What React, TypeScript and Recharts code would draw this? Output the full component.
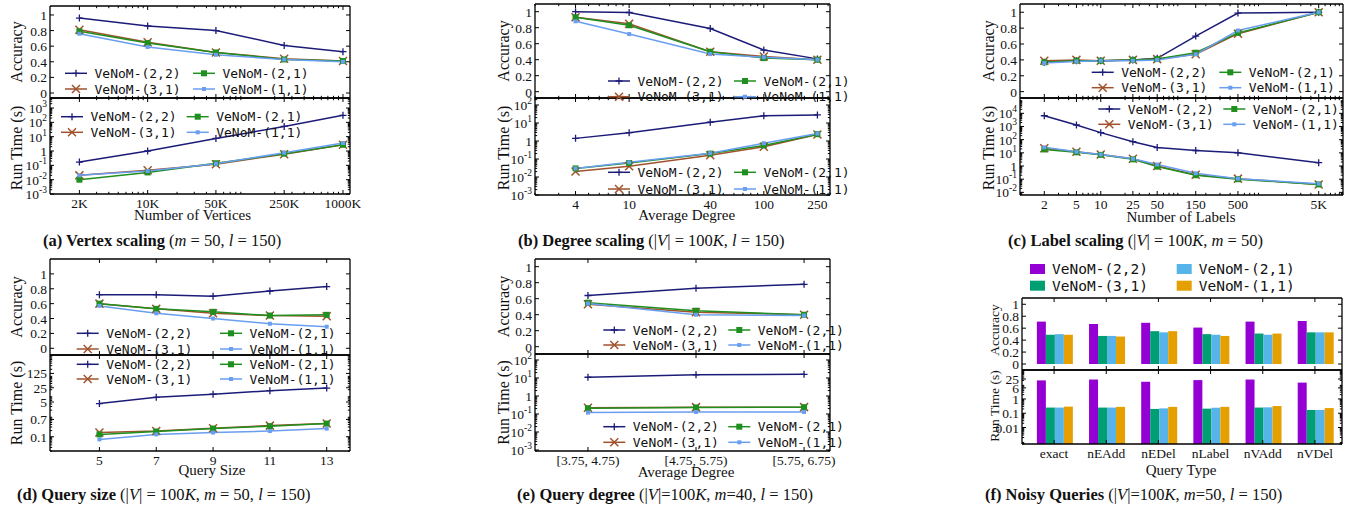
import React from 'react';
import { LineChart, Line, BarChart, Bar, XAxis, YAxis } from 'recharts';

const SERIF = '"Liberation Serif", "Times New Roman", serif';
const MONO = '"DejaVu Sans Mono", monospace';
const INK = '#111';

type Key = 's22' | 's31' | 's21' | 's11';

// ---- series ----
const seriesKeys: Key[] = ['s22', 's31', 's21', 's11'];
const seriesNames: Record<Key, string> = { s22: 'VeNoM-(2,2)', s31: 'VeNoM-(3,1)', s21: 'VeNoM-(2,1)', s11: 'VeNoM-(1,1)' };
const lineColors: Record<Key, string> = { s22: '#1c1c78', s31: '#a0522d', s21: '#1f8f1f', s11: '#6a9ef0' };
const barColors: Record<Key, string> = { s22: '#9400d3', s31: '#009e73', s21: '#56b4e9', s11: '#e69f00' };
const markers: Record<Key, string> = { s22: 'plus', s31: 'cross', s21: 'square', s11: 'dot' };

// ---- (a) vertex scaling ----
const vertexX = [2000, 10000, 50000, 250000, 1000000];
const vertexLabels = ['2K', '10K', '50K', '250K', '1000K'];
const vertexAcc: Record<Key, number[]> = {
  s22: [0.96, 0.86, 0.8, 0.61, 0.53],
  s31: [0.81, 0.65, 0.52, 0.44, 0.41],
  s21: [0.79, 0.64, 0.52, 0.43, 0.41],
  s11: [0.76, 0.59, 0.49, 0.43, 0.4],
};
const vertexTime: Record<Key, number[]> = {
  s22: [0.17, 1.0, 7.5, 52, 310],
  s31: [0.02, 0.045, 0.12, 0.6, 2.7],
  s21: [0.01, 0.032, 0.14, 0.65, 2.7],
  s11: [0.02, 0.04, 0.13, 0.75, 3.6],
};

// ---- (b) degree scaling ----
const degreeX = [4, 10, 40, 100, 250];
const degreeLabels = ['4', '10', '40', '100', '250'];
const degreeAcc: Record<Key, number[]> = {
  s22: [1.0, 0.99, 0.79, 0.52, 0.41],
  s31: [0.93, 0.85, 0.5, 0.44, 0.4],
  s21: [0.93, 0.83, 0.5, 0.42, 0.4],
  s11: [0.88, 0.72, 0.47, 0.43, 0.4],
};
const degreeTime: Record<Key, number[]> = {
  s22: [1.4, 2.9, 11, 25, 28],
  s31: [0.02, 0.04, 0.16, 0.48, 2.3],
  s21: [0.03, 0.06, 0.2, 0.57, 2.4],
  s11: [0.03, 0.065, 0.21, 0.75, 2.6],
};

// ---- (c) label scaling ----
const labelX = [2, 5, 10, 25, 50, 150, 500, 5000];
const labelLabels = ['2', '5', '10', '25', '50', '150', '500', '5K'];
const labelAcc: Record<Key, number[]> = {
  s22: [0.37, 0.39, 0.39, 0.4, 0.42, 0.7, 0.99, 1.0],
  s31: [0.39, 0.4, 0.39, 0.4, 0.41, 0.47, 0.73, 1.0],
  s21: [0.37, 0.39, 0.39, 0.4, 0.41, 0.49, 0.74, 1.0],
  s11: [0.36, 0.38, 0.39, 0.39, 0.4, 0.47, 0.77, 1.0],
};
const labelTime: Record<Key, number[]> = {
  s22: [6500, 1300, 340, 70, 25, 15, 10, 1.8],
  s31: [22, 12, 7.5, 3.5, 1.0, 0.22, 0.11, 0.04],
  s21: [18, 11, 7, 3.2, 0.9, 0.2, 0.1, 0.04],
  s11: [26, 12, 7.5, 3.5, 1.3, 0.28, 0.11, 0.045],
};

// ---- (d) query size ----
const qsizeX = [5, 7, 9, 11, 13];
const qsizeAcc: Record<Key, number[]> = {
  s22: [0.72, 0.72, 0.7, 0.77, 0.83],
  s31: [0.6, 0.53, 0.47, 0.44, 0.43],
  s21: [0.6, 0.53, 0.49, 0.44, 0.45],
  s11: [0.57, 0.47, 0.4, 0.33, 0.29],
};
const qsizeTime: Record<Key, number[]> = {
  s22: [4.2, 8.5, 12, 18, 24],
  s31: [0.16, 0.19, 0.26, 0.35, 0.44],
  s21: [0.13, 0.18, 0.25, 0.33, 0.44],
  s11: [0.074, 0.13, 0.16, 0.19, 0.25],
};
const qsizeTimeTicks = [0.1, 0.7, 5, 25, 125];

// ---- (e) query degree ----
const qdegLabels = ['[3.75, 4.75)', '[4.75, 5.75)', '[5.75, 6.75)'];
const qdegAcc: Record<Key, number[]> = {
  s22: [0.64, 0.73, 0.78],
  s31: [0.53, 0.43, 0.4],
  s21: [0.55, 0.45, 0.4],
  s11: [0.54, 0.4, 0.39],
};
const qdegTime: Record<Key, number[]> = {
  s22: [11, 15, 16],
  s31: [0.22, 0.24, 0.24],
  s21: [0.21, 0.23, 0.24],
  s11: [0.12, 0.13, 0.13],
};

// ---- (f) noisy queries ----
const queryTypes = ['exact', 'nEAdd', 'nEDel', 'nLabel', 'nVAdd', 'nVDel'];
const noisyAcc: Record<Key, number[]> = {
  s22: [0.71, 0.67, 0.69, 0.61, 0.71, 0.72],
  s31: [0.49, 0.47, 0.55, 0.5, 0.51, 0.53],
  s21: [0.5, 0.47, 0.53, 0.49, 0.49, 0.53],
  s11: [0.49, 0.46, 0.55, 0.47, 0.51, 0.53],
};
const noisyTime: Record<Key, number[]> = {
  s22: [20, 23, 16, 21, 23, 14],
  s31: [0.25, 0.25, 0.2, 0.21, 0.25, 0.17],
  s21: [0.25, 0.25, 0.22, 0.24, 0.26, 0.17],
  s11: [0.29, 0.28, 0.28, 0.28, 0.32, 0.23],
};
const noisyTimeTicks = [0.01, 0.1, 1, 6, 25];

const accTicks = [0, 0.2, 0.4, 0.6, 0.8, 1];

const rowsOf = (xs: (number | string)[], d: Record<Key, number[]>) =>
  xs.map((x, i) => ({ x, s22: d.s22[i], s31: d.s31[i], s21: d.s21[i], s11: d.s11[i] }));

type Box = { l: number; t: number; w: number; h: number };
type XCfg = { cat?: boolean; kind?: 'log' | 'linear'; domain?: [number, number]; ticks?: number[]; fmt?: (v: any) => string; padding?: { left: number; right: number } };
type YCfg = { kind: 'log' | 'linear'; domain: [number, number]; ticks: number[]; pow?: boolean; fmt?: (v: any) => string };
type Side = 'bottom' | 'top' | 'left' | 'right';

const FS = 13.5;
const AXLINE = { stroke: '#000', strokeWidth: 1.3 };
const TS = 4; // tick size (inward)

const isMajor = (v: any, majors: any[]) =>
  typeof v !== 'number' || majors.some((m) => Math.abs(m - v) <= Math.abs(m) * 1e-6 + 1e-12);

// log-axis minor ticks (2..9 x 10^n) inside the domain
function minorLog(lo: number, hi: number, majors: number[]) {
  const out: number[] = [];
  for (let n = Math.floor(Math.log10(lo)); n <= Math.ceil(Math.log10(hi)); n++) {
    for (let k = 2; k <= 9; k++) {
      const v = k * Math.pow(10, n);
      if (v >= lo && v <= hi && !isMajor(v, majors)) out.push(v);
    }
  }
  return out;
}

function powLabel(v: number) {
  const e = Math.round(Math.log10(v));
  if (e === 0) return '1';
  return (<><tspan>10</tspan><tspan dy={-6} fontSize={9.5}>{e}</tspan></>);
}

// custom tick: draws the inward tick mark itself (major long, minor short) and the label for majors
function tickFn(side: Side, majors: any[], margin: number, label: ((v: any) => React.ReactNode) | null) {
  return (p: any) => {
    const v = p.payload.value;
    const major = isMajor(v, majors);
    const len = major ? TS : 2.2;
    const lineProps = { stroke: '#000', strokeWidth: 1 };
    let mark: React.ReactNode = null;
    let text: React.ReactNode = null;
    if (side === 'bottom') {
      const e = p.y + TS - margin;
      mark = <line x1={p.x} x2={p.x} y1={e} y2={e - len} {...lineProps} />;
      if (major && label) text = <text x={p.x} y={p.y} dy="0.75em" textAnchor="middle" fontFamily={SERIF} fontSize={FS} fill={INK}>{label(v)}</text>;
    } else if (side === 'top') {
      const e = p.y + margin - TS;
      mark = <line x1={p.x} x2={p.x} y1={e} y2={e + len} {...lineProps} />;
    } else if (side === 'left') {
      const e = p.x - TS + margin;
      mark = <line x1={e} x2={e + len} y1={p.y} y2={p.y} {...lineProps} />;
      if (major && label) text = <text x={p.x} y={p.y} dy={5} textAnchor="end" fontFamily={SERIF} fontSize={FS} fill={INK}>{label(v)}</text>;
    } else {
      const e = p.x - margin + TS;
      mark = <line x1={e} x2={e - len} y1={p.y} y2={p.y} {...lineProps} />;
    }
    return <g>{mark}{text}</g>;
  };
}

function axes(x: XCfg, y: YCfg, showX: boolean) {
  const common = { tickSize: -TS, axisLine: AXLINE, tickLine: false, interval: 0 as const };
  let xp: any;
  let xMajors: any[];
  if (x.cat) {
    xp = { type: 'category', dataKey: 'x', padding: x.padding };
    xMajors = [];
  } else {
    const mins = x.kind === 'log' ? minorLog(x.domain![0], x.domain![1], x.ticks!) : [];
    xp = { type: 'number', dataKey: 'x', scale: x.kind, domain: x.domain, ticks: [...x.ticks!, ...mins], allowDataOverflow: true };
    xMajors = x.ticks!;
  }
  const yMins = y.kind === 'log' ? minorLog(y.domain[0], y.domain[1], y.ticks) : [];
  const yp: any = { type: 'number', scale: y.kind, domain: y.domain, ticks: [...y.ticks, ...yMins], allowDataOverflow: true };
  const yLabel = y.pow ? (v: number) => powLabel(v) : (v: number) => (y.fmt ? y.fmt(v) : String(v));
  return [
    <XAxis key="xb" xAxisId="b" {...xp} {...common} height={30} tickMargin={8} tick={tickFn('bottom', xMajors, 8, showX ? (x.fmt ?? ((v: any) => String(v))) : null)} />,
    <XAxis key="xt" xAxisId="t" orientation="top" {...xp} {...common} height={1} tickMargin={0} tick={tickFn('top', xMajors, 0, null)} />,
    <YAxis key="yl" yAxisId="l" {...yp} {...common} width={60} tickMargin={7} tick={tickFn('left', y.ticks, 7, yLabel)} />,
    <YAxis key="yr" yAxisId="r" orientation="right" {...yp} {...common} width={1} tickMargin={0} tick={tickFn('right', y.ticks, 0, null)} />,
  ];
}

function Marker({ kind, cx, cy, color }: { kind: string; cx: number; cy: number; color: string }) {
  if (cx == null || cy == null) return <g />;
  if (kind === 'plus') return <path d={`M${cx - 3.5},${cy}H${cx + 3.5}M${cx},${cy - 3.5}V${cy + 3.5}`} stroke={color} strokeWidth={1.3} fill="none" />;
  if (kind === 'cross') return <path d={`M${cx - 4},${cy - 4}L${cx + 4},${cy + 4}M${cx - 4},${cy + 4}L${cx + 4},${cy - 4}`} stroke={color} strokeWidth={1.5} fill="none" />;
  if (kind === 'square') return <rect x={cx - 3} y={cy - 3} width={6} height={6} fill={color} />;
  return <rect x={cx - 2} y={cy - 2} width={4} height={4} fill={color} />;
}

function LinePlot({ box, rows, x, y, showX }: { box: Box; rows: any[]; x: XCfg; y: YCfg; showX: boolean }) {
  return (
    <div style={{ position: 'absolute', left: box.l - 60, top: box.t - 11 }}>
      <LineChart width={box.w + 71} height={box.h + 41} data={rows} margin={{ top: 10, right: 10, bottom: 0, left: 0 }}>
        {axes(x, y, showX)}
        {seriesKeys.map((k) => (
          <Line
            key={k}
            xAxisId="b"
            yAxisId="l"
            dataKey={k}
            type="linear"
            stroke={lineColors[k]}
            strokeWidth={1.5}
            isAnimationActive={false}
            activeDot={false}
            dot={(p: any) => <Marker key={`${k}-${p.index}`} kind={markers[k]} cx={p.cx} cy={p.cy} color={lineColors[k]} />}
          />
        ))}
      </LineChart>
    </div>
  );
}

function BarPlot({ box, rows, y, showX }: { box: Box; rows: any[]; y: YCfg; showX: boolean }) {
  const x: XCfg = { cat: true, padding: { left: 6, right: 1 } };
  return (
    <div style={{ position: 'absolute', left: box.l - 60, top: box.t - 11 }}>
      <BarChart width={box.w + 71} height={box.h + 41} data={rows} margin={{ top: 10, right: 10, bottom: 0, left: 0 }} barCategoryGap="17%" barGap={0}>
        {axes(x, y, showX)}
        {seriesKeys.map((k) => (
          <Bar key={k} xAxisId="b" yAxisId="l" dataKey={k} fill={barColors[k]} isAnimationActive={false} />
        ))}
      </BarChart>
    </div>
  );
}

function LineLegend({ x, y, gap, dy = 15.7 }: { x: number; y: number; gap: number; dy?: number }) {
  const grid: [Key, number, number][] = [['s22', 0, 0], ['s21', 1, 0], ['s31', 0, 1], ['s11', 1, 1]];
  return (
    <g>
      {grid.map(([k, c, r]) => {
        const lx = x + c * gap;
        const ly = y + r * dy;
        return (
          <g key={k}>
            <line x1={lx} x2={lx + 22} y1={ly} y2={ly} stroke={lineColors[k]} strokeWidth={1.5} />
            <Marker kind={markers[k]} cx={lx + 11} cy={ly} color={lineColors[k]} />
            <text x={lx + 29.5} y={ly} dy="0.36em" fontFamily={MONO} fontSize={13} fill={INK}>{seriesNames[k]}</text>
          </g>
        );
      })}
    </g>
  );
}

function BarLegend({ x, y, gap, dy }: { x: number; y: number; gap: number; dy: number }) {
  const grid: [Key, number, number][] = [['s22', 0, 0], ['s21', 1, 0], ['s31', 0, 1], ['s11', 1, 1]];
  return (
    <g>
      {grid.map(([k, c, r]) => {
        const lx = x + c * gap;
        const ly = y + r * dy;
        return (
          <g key={k}>
            <rect x={lx} y={ly - 5} width={15} height={10} fill={barColors[k]} />
            <text x={lx + 22} y={ly} dy="0.36em" fontFamily={MONO} fontSize={14.5} fill={INK}>{seriesNames[k]}</text>
          </g>
        );
      })}
    </g>
  );
}

type Part = { t: string; b?: boolean; i?: boolean };
function Caption({ x, y, parts }: { x: number; y: number; parts: Part[] }) {
  return (
    <text x={x} y={y} dy="0.35em" fontFamily={SERIF} fontSize={16.5} fill={INK} style={{ whiteSpace: 'pre' }}>
      {parts.map((p, i) => (
        <tspan key={i} fontWeight={p.b ? 'bold' : 'normal'} fontStyle={p.i ? 'italic' : 'normal'}>{p.t}</tspan>
      ))}
    </text>
  );
}

function YTitle({ x, y, text, size = 16 }: { x: number; y: number; text: string; size?: number }) {
  return (
    <text x={x} y={y} transform={`rotate(-90 ${x} ${y})`} textAnchor="middle" dy="0.35em" fontFamily={SERIF} fontSize={size} fill={INK}>{text}</text>
  );
}
function XTitle({ x, y, text }: { x: number; y: number; text: string }) {
  return <text x={x} y={y} textAnchor="middle" dy="0.35em" fontFamily={SERIF} fontSize={15} fill={INK}>{text}</text>;
}

// plot boxes (page coordinates)
const A_ACC: Box = { l: 50, t: 6, w: 300, h: 92 };
const A_RT: Box = { l: 50, t: 98, w: 300, h: 96 };
const B_ACC: Box = { l: 535, t: 4, w: 295, h: 94 };
const B_RT: Box = { l: 535, t: 98, w: 295, h: 97 };
const C_ACC: Box = { l: 1020, t: 4, w: 323, h: 94 };
const C_RT: Box = { l: 1020, t: 98, w: 323, h: 97 };
const D_ACC: Box = { l: 50, t: 259, w: 300, h: 96 };
const D_RT: Box = { l: 50, t: 355, w: 300, h: 96 };
const E_ACC: Box = { l: 535, t: 259, w: 295, h: 95 };
const E_RT: Box = { l: 535, t: 354, w: 295, h: 97 };
const F_ACC: Box = { l: 1022, t: 298, w: 320, h: 72 };
const F_RT: Box = { l: 1022, t: 370, w: 320, h: 74 };

const lookup = (xs: number[], labels: string[]) => (v: number) => labels[xs.indexOf(v)] ?? '';
const pows = (a: number, b: number) => Array.from({ length: b - a + 1 }, (_, i) => Math.pow(10, a + i));

export default function App() {
  const ax: XCfg = { kind: 'log', domain: [1000, 1.18e6], ticks: vertexX, fmt: lookup(vertexX, vertexLabels) };
  const bx: XCfg = { kind: 'log', domain: [2, 310], ticks: degreeX, fmt: lookup(degreeX, degreeLabels) };
  const cx: XCfg = { kind: 'log', domain: [1, 10000], ticks: labelX, fmt: lookup(labelX, labelLabels) };
  const dx: XCfg = { kind: 'linear', domain: [3.26, 13.82], ticks: qsizeX, fmt: (v: number) => String(v) };
  const qdegIdx = qdegLabels.map((_, i) => i);
  const ex: XCfg = { kind: 'linear', domain: [-0.49, 2.24], ticks: qdegIdx, fmt: (v: number) => qdegLabels[v] ?? '' };

  const acc = (lo: number, hi: number): YCfg => ({ kind: 'linear', domain: [lo, hi], ticks: accTicks });

  return (
    <div style={{ position: 'absolute', left: 0, top: 0, width: 1364, height: 515, background: '#fff', overflow: 'hidden' }}>
      <LinePlot box={A_ACC} rows={rowsOf(vertexX, vertexAcc)} x={ax} y={acc(-0.064, 1.115)} showX={false} />
      <LinePlot box={A_RT} rows={rowsOf(vertexX, vertexTime)} x={ax} y={{ kind: 'log', domain: [1e-3, 5000], ticks: pows(-3, 3), pow: true }} showX />
      <LinePlot box={B_ACC} rows={rowsOf(degreeX, degreeAcc)} x={bx} y={acc(-0.079, 1.096)} showX={false} />
      <LinePlot box={B_RT} rows={rowsOf(degreeX, degreeTime)} x={bx} y={{ kind: 'log', domain: [1e-3, 245], ticks: pows(-3, 2), pow: true }} showX />
      <LinePlot box={C_ACC} rows={rowsOf(labelX, labelAcc)} x={cx} y={acc(-0.08, 1.104)} showX={false} />
      <LinePlot box={C_RT} rows={rowsOf(labelX, labelTime)} x={cx} y={{ kind: 'log', domain: [0.0063, 1.45e5], ticks: pows(-2, 4), pow: true }} showX />
      <LinePlot box={D_ACC} rows={rowsOf(qsizeX, qsizeAcc)} x={dx} y={acc(-0.09, 1.2)} showX={false} />
      <LinePlot box={D_RT} rows={rowsOf(qsizeX, qsizeTime)} x={dx} y={{ kind: 'log', domain: [0.02, 1000], ticks: qsizeTimeTicks }} showX />
      <LinePlot box={E_ACC} rows={rowsOf(qdegIdx, qdegAcc)} x={ex} y={acc(-0.091, 1.096)} showX={false} />
      <LinePlot box={E_RT} rows={rowsOf(qdegIdx, qdegTime)} x={ex} y={{ kind: 'log', domain: [8.8e-4, 215], ticks: pows(-3, 2), pow: true }} showX />
      <BarPlot box={F_ACC} rows={rowsOf(queryTypes, noisyAcc)} y={acc(-0.1, 1.105)} showX={false} />
      <BarPlot box={F_RT} rows={rowsOf(queryTypes, noisyTime)} y={{ kind: 'log', domain: [7e-4, 107], ticks: noisyTimeTicks }} showX />

      <svg width={1364} height={515} style={{ position: 'absolute', left: 0, top: 0, pointerEvents: 'none' }}>
        <LineLegend x={65} y={73.3} gap={128} />
        <LineLegend x={61} y={116.7} gap={125.7} dy={15.6} />
        <LineLegend x={608} y={81} gap={126} />
        <LineLegend x={608} y={172.3} gap={126} dy={16.7} />
        <LineLegend x={1091.7} y={72.3} gap={127.6} dy={15.4} />
        <LineLegend x={1098.3} y={109} gap={125} dy={15.3} />
        <LineLegend x={76.7} y={333.3} gap={143.3} />
        <LineLegend x={76.7} y={364.3} gap={143.3} dy={14.7} />
        <LineLegend x={603.3} y={330} gap={125} dy={15} />
        <LineLegend x={603.3} y={426.7} gap={125} dy={15.6} />
        <BarLegend x={1030} y={269} gap={146.7} dy={16.7} />

        <YTitle x={16} y={52} text="Accuracy" />
        <YTitle x={16} y={148} text="Run Time (s)" />
        <YTitle x={503} y={51} text="Accuracy" />
        <YTitle x={503} y={148} text="Run Time (s)" />
        <YTitle x={988} y={51} text="Accuracy" />
        <YTitle x={988} y={148} text="Run Time (s)" />
        <YTitle x={16} y={307} text="Accuracy" />
        <YTitle x={16} y={403} text="Run Time (s)" />
        <YTitle x={503} y={306.5} text="Accuracy" />
        <YTitle x={503} y={402.5} text="Run Time (s)" />
        <YTitle x={994} y={330} text="Accuracy" size={13.5} />
        <YTitle x={994} y={406} text="Run Time (s)" size={13.5} />

        <XTitle x={192.5} y={215} text="Number of Vertices" />
        <XTitle x={686.7} y={215} text="Average Degree" />
        <XTitle x={1181} y={217} text="Number of Labels" />
        <XTitle x={212} y={470} text="Query Size" />
        <XTitle x={686} y={471.5} text="Average Degree" />
        <XTitle x={1181} y={470} text="Query Type" />

        <Caption x={43} y={240} parts={[{ t: '(a) Vertex scaling', b: true }, { t: ' (' }, { t: 'm', i: true }, { t: ' = 50, ' }, { t: 'l', i: true }, { t: ' = 150)' }]} />
        <Caption x={518} y={240} parts={[{ t: '(b) Degree scaling', b: true }, { t: ' (|' }, { t: 'V', i: true }, { t: '| = 100' }, { t: 'K', i: true }, { t: ', ' }, { t: 'l', i: true }, { t: ' = 150)' }]} />
        <Caption x={1008} y={240} parts={[{ t: '(c) Label scaling', b: true }, { t: ' (|' }, { t: 'V', i: true }, { t: '| = 100' }, { t: 'K', i: true }, { t: ', ' }, { t: 'm', i: true }, { t: ' = 50)' }]} />
        <Caption x={17} y={494} parts={[{ t: '(d) Query size', b: true }, { t: ' (|' }, { t: 'V', i: true }, { t: '| = 100' }, { t: 'K', i: true }, { t: ', ' }, { t: 'm', i: true }, { t: ' = 50, ' }, { t: 'l', i: true }, { t: ' = 150)' }]} />
        <Caption x={517} y={494} parts={[{ t: '(e) Query degree', b: true }, { t: ' (|' }, { t: 'V', i: true }, { t: '|=100' }, { t: 'K', i: true }, { t: ', ' }, { t: 'm', i: true }, { t: '=40, ' }, { t: 'l', i: true }, { t: ' = 150)' }]} />
        <Caption x={985} y={494} parts={[{ t: '(f) Noisy Queries', b: true }, { t: ' (|' }, { t: 'V', i: true }, { t: '|=100' }, { t: 'K', i: true }, { t: ', ' }, { t: 'm', i: true }, { t: '=50, ' }, { t: 'l', i: true }, { t: ' = 150)' }]} />
      </svg>
    </div>
  );
}
